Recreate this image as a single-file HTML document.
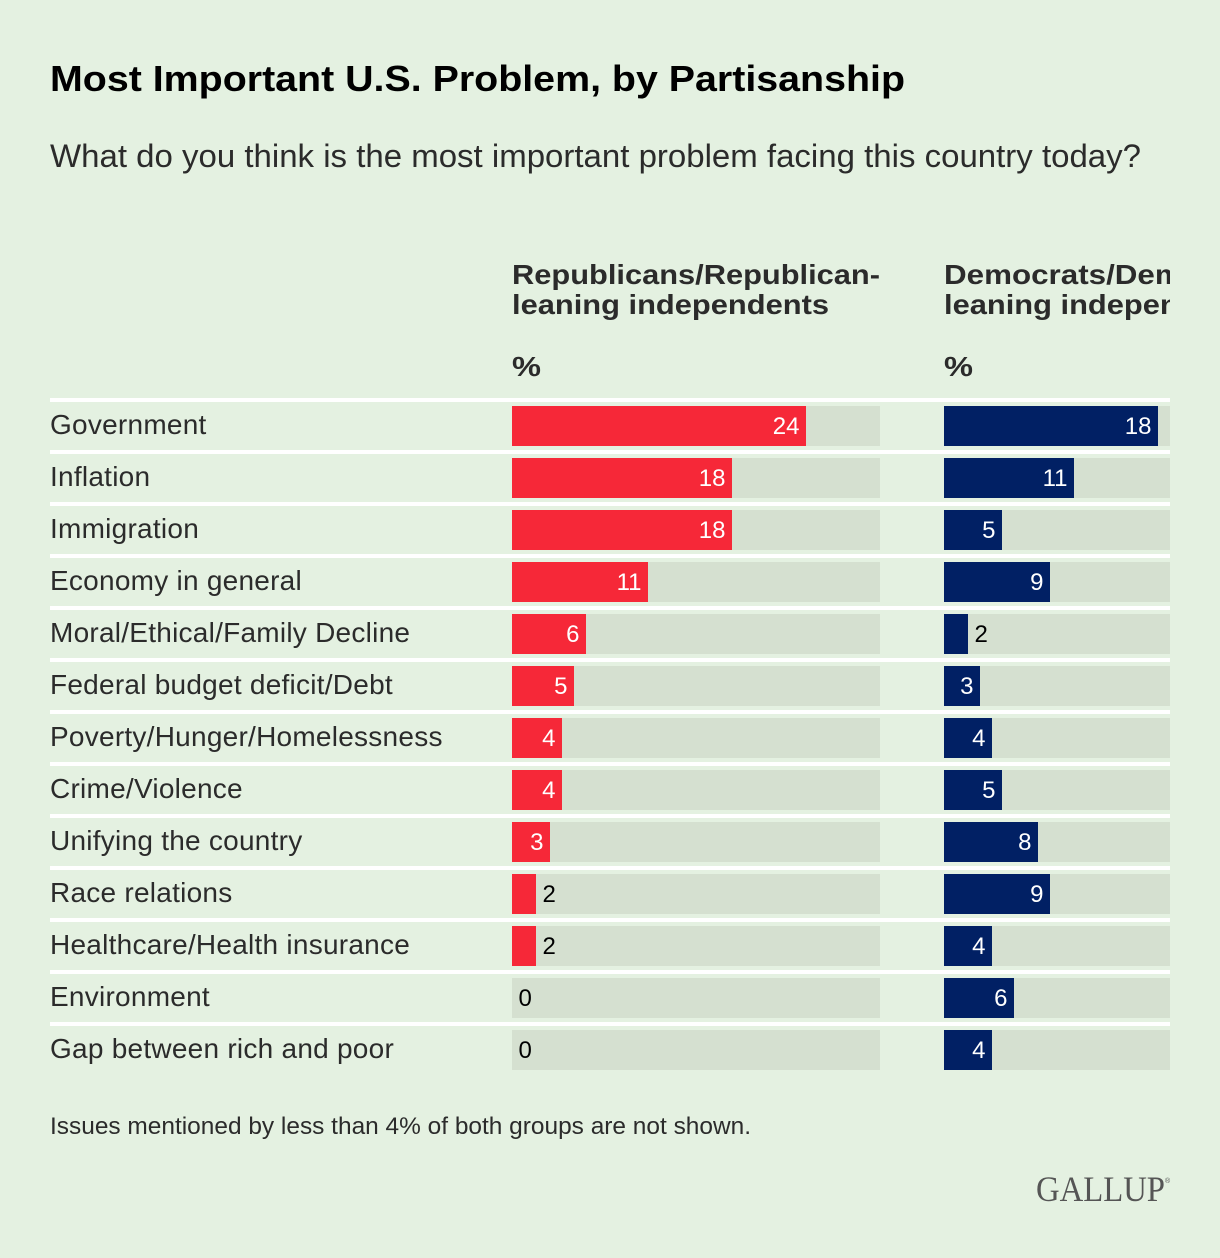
<!DOCTYPE html>
<html lang="en">
<head>
<meta charset="utf-8">
<title>Most Important U.S. Problem, by Partisanship</title>
<style>
html,body{margin:0;padding:0;background:#E4F1E1;}
svg{display:block;font-family:"Liberation Sans",sans-serif;}
.title{font-size:36px;font-weight:700;fill:#000;}
.subtitle{font-size:32px;fill:#2b2b2b;}
.head{font-size:28px;font-weight:700;fill:#2b2b2b;}
.cat{font-size:28px;fill:#2b2b2b;}
.val{font-size:24px;}
.note{font-size:24px;fill:#2b2b2b;}
.logo{font-family:"Liberation Serif",serif;font-size:36px;fill:#555;}
</style>
</head>
<body>
<svg id="chart" xmlns="http://www.w3.org/2000/svg" width="1220" height="1258" viewBox="0 0 1220 1258">
<defs><clipPath id="panel-clip"><rect x="0" y="240" width="1170" height="840"/></clipPath></defs>
<rect x="0" y="0" width="1220" height="1258" fill="#E4F1E1"/>
<text class="title" x="50" y="91" textLength="855" lengthAdjust="spacingAndGlyphs">Most Important U.S. Problem, by Partisanship</text>
<text class="subtitle" x="50" y="167" textLength="1091" lengthAdjust="spacingAndGlyphs">What do you think is the most important problem facing this country today?</text>
<g clip-path="url(#panel-clip)">
<text class="head" x="512" y="284" textLength="368" lengthAdjust="spacingAndGlyphs">Republicans/Republican-</text>
<text class="head" x="512" y="314" textLength="317" lengthAdjust="spacingAndGlyphs">leaning independents</text>
<text class="head" x="512" y="376" textLength="29" lengthAdjust="spacingAndGlyphs">%</text>
<text class="head" x="944" y="284" textLength="352" lengthAdjust="spacingAndGlyphs">Democrats/Democratic-</text>
<text class="head" x="944" y="314" textLength="317" lengthAdjust="spacingAndGlyphs">leaning independents</text>
<text class="head" x="944" y="376" textLength="29" lengthAdjust="spacingAndGlyphs">%</text>
<g id="rows"></g>
</g>
<text class="note" x="50" y="1134" textLength="701" lengthAdjust="spacingAndGlyphs">Issues mentioned by less than 4% of both groups are not shown.</text>
<text class="logo" x="1036" y="1201" textLength="129" lengthAdjust="spacingAndGlyphs">GALLUP</text>
<text x="1165" y="1183" font-size="7" fill="#555">®</text>
</svg>
<script>
const categories = ["Government","Inflation","Immigration","Economy in general","Moral/Ethical/Family Decline","Federal budget deficit/Debt","Poverty/Hunger/Homelessness","Crime/Violence","Unifying the country","Race relations","Healthcare/Health insurance","Environment","Gap between rich and poor"];
const republicanValues = [24,18,18,11,6,5,4,4,3,2,2,0,0];
const democratValues = [18,11,5,9,2,3,4,5,8,9,4,6,4];

const NS = 'http://www.w3.org/2000/svg';
const root = document.getElementById('rows');
const rowY = i => 406 + i * 52;
const ROW_H = 40;
const evenPx = px => Math.max(0, 2 * Math.round(px / 2));
const repX = v => evenPx(v * 12.25 + 0.3);
const demX = v => evenPx(v * 11.9 - 0.6);

function make(tag, attrs, text) {
  const el = document.createElementNS(NS, tag);
  for (const k in attrs) el.setAttribute(k, attrs[k]);
  if (text !== undefined) el.textContent = text;
  root.appendChild(el);
  return el;
}

function drawPanel(values, left, trackW, scale, color, prefix) {
  values.forEach((v, i) => {
    const y = rowY(i);
    const track = make('rect', {x: left, y: y, width: trackW, height: ROW_H, fill: '#D5E0D0'});
    
    
    const w = scale(v);
    const bar = make('rect', {x: left, y: y, width: w, height: ROW_H, fill: color});
    
    
    const inside = w > 30;
    const label = make('text', {
      class: 'val',
      x: inside ? left + w - 6.5 : left + w + 6.5,
      y: y + 28,
      'text-anchor': inside ? 'end' : 'start',
      fill: inside ? '#fff' : '#000'
    }, String(v));
    
    
  });
}

categories.forEach((c, i) => {
  const y = rowY(i);
  const rule = make('rect', {x: 50, y: y - 8, width: 1120, height: 4, fill: '#fff'});
  
  
  const label = make('text', {class: 'cat', x: 50, y: y + 28, 'letter-spacing': '0.25'}, c);
  
  
});

drawPanel(republicanValues, 512, 368, repX, '#F62838', 'republican');
drawPanel(democratValues, 944, 226, demX, '#012064', 'democrat');
</script>
</body>
</html>
